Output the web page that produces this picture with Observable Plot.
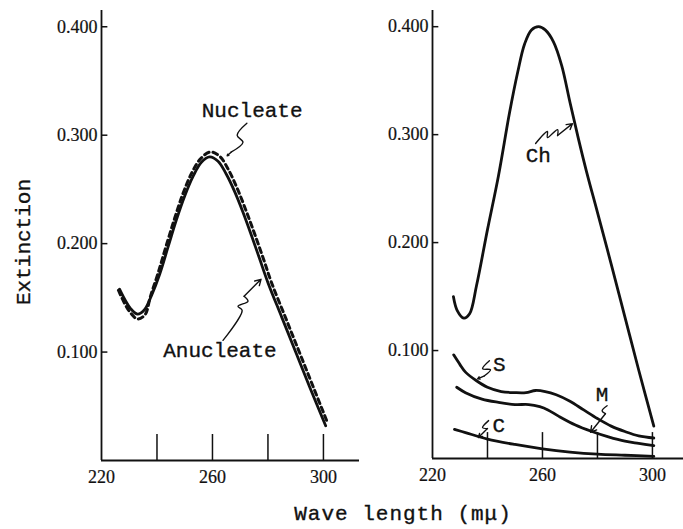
<!DOCTYPE html>
<html><head><meta charset="utf-8">
<script src="https://cdn.jsdelivr.net/npm/d3@7"></script>
<script src="https://cdn.jsdelivr.net/npm/@observablehq/plot@0.6"></script>
<style>
body{margin:0;background:#fff;}
#chart{position:relative;width:683px;height:529px;overflow:hidden;background:#fff;}
#chart svg{position:absolute;top:0;}
.lab{position:absolute;font-family:"Liberation Mono",monospace;color:#111;font-size:21px;white-space:nowrap;-webkit-text-stroke:0.35px #111;}
</style></head><body>
<div id="chart"></div>
<script>
// ---- data ----
const anucleateWl  = [226.5, 228.5, 230.5, 233, 235.5, 238, 241, 244, 247, 250, 253, 256, 259, 262, 265, 268, 271, 274, 277, 280, 285, 290, 295, 300.8];
const anucleateExt = [0.158, 0.148, 0.140, 0.135, 0.139, 0.152, 0.172, 0.197, 0.222, 0.244, 0.262, 0.275, 0.280, 0.276, 0.264, 0.248, 0.229, 0.208, 0.186, 0.164, 0.132, 0.100, 0.068, 0.032];
const nucleateWl   = [226.1, 228.3, 230.5, 233, 235.7, 237.6, 240.3, 243.2, 246.2, 249.2, 252.3, 255.6, 259.2, 262.6, 265.8, 269, 272.1, 275.2, 278.3, 281.3, 286.3, 291.3, 296.3, 301.6];
const nucleateExt  = [0.157, 0.145, 0.136, 0.1305, 0.1345, 0.151, 0.172, 0.197, 0.222, 0.245, 0.264, 0.278, 0.2845, 0.2805, 0.268, 0.2505, 0.2305, 0.209, 0.1865, 0.164, 0.132, 0.100, 0.068, 0.034];

const chWl  = [227.6, 229, 231.4, 233.5, 236, 240, 244, 248, 251, 253.5, 256, 258.6, 261, 264, 267, 270, 273, 276, 280, 285, 290, 295, 300.5];
const chExt = [0.150, 0.137, 0.130, 0.134, 0.160, 0.212, 0.262, 0.320, 0.358, 0.384, 0.397, 0.400, 0.397, 0.386, 0.364, 0.330, 0.297, 0.266, 0.228, 0.180, 0.131, 0.082, 0.030];
const sWl   = [227.7, 230, 232, 236, 240, 245, 250, 254, 257.5, 261, 265, 270, 275, 280, 285, 290, 295, 300.5];
const sExt  = [0.096, 0.087, 0.080, 0.072, 0.066, 0.062, 0.061, 0.061, 0.063, 0.062, 0.059, 0.053, 0.045, 0.037, 0.030, 0.025, 0.021, 0.019];
const mWl   = [228.8, 232, 238, 244, 250, 255, 259, 262, 266, 272, 278, 284, 290, 295, 300.5];
const mExt  = [0.066, 0.061, 0.055, 0.052, 0.050, 0.050, 0.048, 0.045, 0.039, 0.031, 0.025, 0.020, 0.016, 0.014, 0.012];
const cWl   = [228, 232, 240, 250, 260, 270, 280, 290, 300.5];
const cExt  = [0.027, 0.024, 0.018, 0.013, 0.009, 0.006, 0.004, 0.003, 0.002];

const yTicks = [0.1, 0.2, 0.3, 0.4];
const xTicks = [240, 260, 280, 300];
const xTickLabels = [220, 260, 300];

// annotation labels and leaders [wavelength, extinction]; last point = arrow tip
const leftLabels  = [{t: "Nucleate", wl: 274.3, ext: 0.323}, {t: "Anucleate", wl: 262.7, ext: 0.1015}];
const rightLabels = [{t: "Ch", wl: 258.5, ext: 0.281}, {t: "S", wl: 244.3, ext: 0.0874}, {t: "M", wl: 281.7, ext: 0.0597}, {t: "C", wl: 244.1, ext: 0.0305}];
const leaderNucleate  = [[272.4, 0.311], [268.9, 0.300], [271.0, 0.2935], [266.7, 0.2843], [265.3, 0.281]];
const leaderAnucleate = [[263.8, 0.1108], [270.7, 0.1385], [269.2, 0.1422], [272.8, 0.1468], [271.4, 0.1514], [277.5, 0.1671]];
const leaderCh = [[257.5, 0.2918], [261.8, 0.3029], [261.8, 0.2973], [265.5, 0.3047], [265.5, 0.2992], [270.9, 0.3102]];
const leaderS  = [[240.7, 0.0905], [238.2, 0.0831], [241.1, 0.0822], [238.9, 0.0766], [236.4, 0.0738]];
const leaderC  = [[240.4, 0.0351], [238.2, 0.0286], [240.0, 0.0277], [236.7, 0.0194]];
const leaderM  = [[283.5, 0.0489], [281.7, 0.0443], [282.9, 0.0415], [277.5, 0.0243]];

// ---- helpers ----
const toRows = (wl, ext) => wl.map((w, i) => ({wl: w, ext: ext[i]}));
const INK = "#111";
const tickFont = "Liberation Serif";
const labFont = "Liberation Mono";

function leaderMarks(pts) {
  const rows = pts.map(([wl, ext]) => ({wl, ext}));
  const a = rows[rows.length - 2], b = rows[rows.length - 1];
  return [
    Plot.line(rows.slice(0, -1), {x: "wl", y: "ext", curve: "catmull-rom", stroke: INK, strokeWidth: 1.4}),
    Plot.arrow([{x1: a.wl, y1: a.ext, x2: b.wl, y2: b.ext}], {x1: "x1", y1: "y1", x2: "x2", y2: "y2", stroke: INK, strokeWidth: 1.4, headLength: 7})
  ];
}

function frame(xMax, yMax) {
  return [
    Plot.ruleX([220], {y1: 0, y2: yMax, stroke: INK, strokeWidth: 1.8}),
    Plot.ruleY([0], {x1: 220, x2: xMax, stroke: INK, strokeWidth: 1.8}),
    Plot.ruleY(yTicks, {x1: 220, x2: 222.3, stroke: INK, strokeWidth: 1.5}),
    Plot.text(yTicks, {x: 220, y: d => d, text: d => d3.format(".3f")(d), textAnchor: "end", dx: -4, fontSize: 18, fontFamily: tickFont, fill: INK, stroke: INK, strokeWidth: 0.2}),
    Plot.ruleX(xTicks, {y1: 0, y2: 0.024, stroke: INK, strokeWidth: 1.5}),
    Plot.text(xTickLabels, {x: d => d, y: 0, dy: 17, text: d => String(d), fontSize: 18, fontFamily: tickFont, fill: INK, stroke: INK, strokeWidth: 0.2})
  ];
}

const yMax = 0.415;

const left = Plot.plot({
  width: 380, height: 529,
  marginLeft: 101, marginRight: 21, marginTop: 10, marginBottom: 69,
  x: {domain: [220, 313], axis: null},
  y: {domain: [0, yMax], axis: null},
  style: {background: "transparent", overflow: "visible"},
  marks: [
    ...frame(313, yMax),
    Plot.line(toRows(anucleateWl, anucleateExt), {x: "wl", y: "ext", curve: "catmull-rom", stroke: INK, strokeWidth: 2.8}),
    Plot.line(toRows(nucleateWl, nucleateExt), {x: "wl", y: "ext", curve: "catmull-rom", stroke: INK, strokeWidth: 3, strokeDasharray: "5,4"}),
    Plot.text(leftLabels, {x: "wl", y: "ext", text: "t", fontSize: 21, fontFamily: labFont, fill: INK, stroke: INK, strokeWidth: 0.35}),
    ...leaderMarks(leaderNucleate),
    ...leaderMarks(leaderAnucleate)
  ]
});
left.style.left = "0px";

const right = Plot.plot({
  width: 343, height: 529,
  marginLeft: 92, marginRight: 0, marginTop: 10, marginBottom: 71,
  x: {domain: [220, 311.3], axis: null},
  y: {domain: [0, yMax], axis: null},
  style: {background: "transparent", overflow: "visible"},
  marks: [
    ...frame(311.3, yMax),
    Plot.line(toRows(chWl, chExt), {x: "wl", y: "ext", curve: "catmull-rom", stroke: INK, strokeWidth: 2.8}),
    Plot.line(toRows(sWl, sExt), {x: "wl", y: "ext", curve: "catmull-rom", stroke: INK, strokeWidth: 2.8}),
    Plot.line(toRows(mWl, mExt), {x: "wl", y: "ext", curve: "catmull-rom", stroke: INK, strokeWidth: 2.8}),
    Plot.line(toRows(cWl, cExt), {x: "wl", y: "ext", curve: "catmull-rom", stroke: INK, strokeWidth: 2.8}),
    Plot.text(rightLabels, {x: "wl", y: "ext", text: "t", fontSize: 21, fontFamily: labFont, fill: INK, stroke: INK, strokeWidth: 0.35}),
    ...leaderMarks(leaderCh),
    ...leaderMarks(leaderS),
    ...leaderMarks(leaderC),
    ...leaderMarks(leaderM)
  ]
});
right.style.left = "340px";

const chart = document.getElementById("chart");
chart.appendChild(left);
chart.appendChild(right);

const yLab = document.createElement("div");
yLab.className = "lab";
yLab.textContent = "Extinction";
yLab.style.left = "24px"; yLab.style.top = "242px";
yLab.style.transform = "translate(-50%,-50%) rotate(-90deg)";
chart.appendChild(yLab);

const xLab = document.createElement("div");
xLab.className = "lab";
xLab.textContent = "Wave length (m\u03BC)";
xLab.style.left = "403px"; xLab.style.top = "514px";
xLab.style.letterSpacing = "1px";
xLab.style.transform = "translate(-50%,-50%)";
chart.appendChild(xLab);
</script>
</body></html>
